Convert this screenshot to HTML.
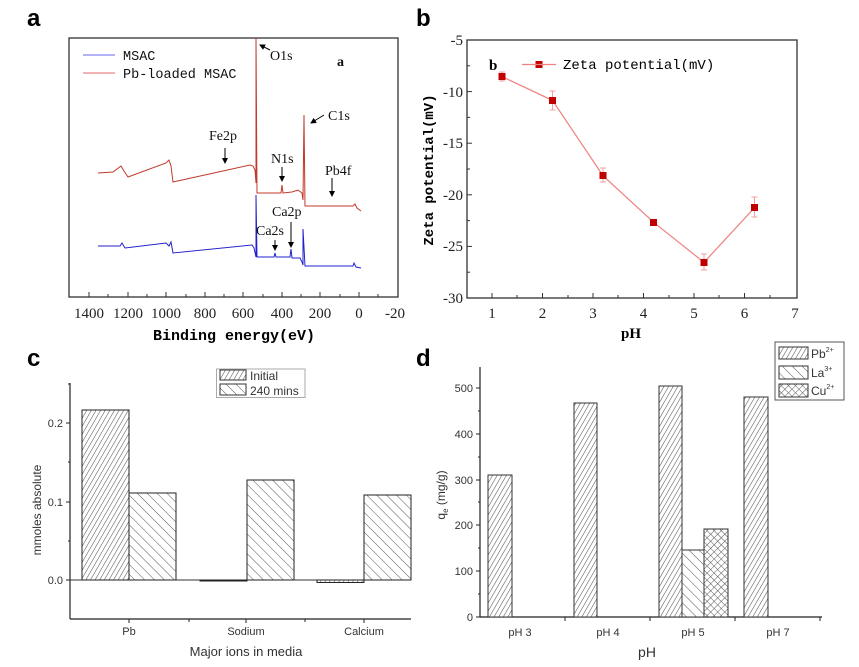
<!DOCTYPE html>
<html><head><meta charset="utf-8"><style>
html,body{margin:0;padding:0;background:#fff;}
svg{display:block;}
.m{font-family:"Liberation Mono",monospace;}
.s{font-family:"Liberation Serif",serif;}
.a{font-family:"Liberation Sans",sans-serif;}
</style></head><body>
<svg width="859" height="667" viewBox="0 0 859 667" xmlns="http://www.w3.org/2000/svg">
<defs>
<pattern id="pf" width="4" height="4" patternUnits="userSpaceOnUse" patternTransform="rotate(30)">
<rect width="4" height="4" fill="#fff"/><line x1="0" y1="0" x2="0" y2="4" stroke="#555" stroke-width="1.1"/></pattern>
<pattern id="pb" width="7" height="7" patternUnits="userSpaceOnUse" patternTransform="rotate(-45)">
<rect width="7" height="7" fill="#fff"/><line x1="0" y1="0" x2="0" y2="7" stroke="#444" stroke-width="0.9"/></pattern>
<pattern id="px" width="5" height="5" patternUnits="userSpaceOnUse" patternTransform="rotate(45)">
<rect width="5" height="5" fill="#fff"/><line x1="0" y1="0" x2="0" y2="5" stroke="#444" stroke-width="0.9"/><line x1="0" y1="0" x2="5" y2="0" stroke="#444" stroke-width="0.9"/></pattern>
<marker id="ar" markerWidth="6" markerHeight="6" refX="5" refY="3" orient="auto"><path d="M0,0 L6,3 L0,6z" fill="#000"/></marker>
</defs>

<!-- Panel labels -->
<g class="a" font-weight="bold" font-size="24">
<text x="27" y="26">a</text><text x="416" y="26">b</text>
<text x="27" y="366">c</text><text x="416" y="366">d</text>
</g>

<!-- Panel a -->
<rect x="69" y="38" width="329" height="259" fill="none" stroke="#333" stroke-width="1.3"/>
<g stroke="#333" stroke-width="1">
<line x1="89" y1="297" x2="89" y2="292"/><line x1="108" y1="297" x2="108" y2="294"/><line x1="128" y1="297" x2="128" y2="292"/><line x1="147" y1="297" x2="147" y2="294"/><line x1="166" y1="297" x2="166" y2="292"/><line x1="186" y1="297" x2="186" y2="294"/><line x1="205" y1="297" x2="205" y2="292"/><line x1="224" y1="297" x2="224" y2="294"/><line x1="243" y1="297" x2="243" y2="292"/><line x1="263" y1="297" x2="263" y2="294"/><line x1="282" y1="297" x2="282" y2="292"/><line x1="301" y1="297" x2="301" y2="294"/><line x1="320" y1="297" x2="320" y2="292"/><line x1="340" y1="297" x2="340" y2="294"/><line x1="359" y1="297" x2="359" y2="292"/><line x1="378" y1="297" x2="378" y2="294"/>
</g>
<g class="s" font-size="15" text-anchor="middle" fill="#222">
<text x="89" y="318">1400</text><text x="128" y="318">1200</text><text x="166" y="318">1000</text><text x="205" y="318">800</text><text x="243" y="318">600</text><text x="282" y="318">400</text><text x="320" y="318">200</text><text x="359" y="318">0</text><text x="395" y="318">-20</text>
</g>
<text x="234" y="340" class="m" font-size="15" font-weight="bold" text-anchor="middle">Binding energy(eV)</text>
<polyline fill="none" stroke="#c0392b" stroke-width="1" points="98,173 113,172 121,166 124,171 128,177 166,163 169,160 171,166 173,182 250,165 253,166 255,170 256,183 256,38 257,193 281,193 282,185 283,193 292,192 298,190 302,193 303,200 304,115 305,206 353,206 355,204 357,208 361,211"/>
<polyline fill="none" stroke="#2222cc" stroke-width="1" points="98,246 120,246 122,243 125,248 166,243 169,246 171,242 173,253 252,245 254,248 256,257 256,195 257,257 274,257 275,253 276,257 290,257 291,249 292,258 300,258 302,262 303,265 303,229 305,266 353,266 354,263 356,267 361,268"/>
<line x1="83" y1="55" x2="115" y2="55" stroke="#6666ee" stroke-width="1"/>
<line x1="83" y1="73" x2="115" y2="73" stroke="#e06666" stroke-width="1"/>
<g class="m" font-size="13.5" fill="#111">
<text x="123" y="60">MSAC</text><text x="123" y="78">Pb-loaded MSAC</text>
</g>
<g class="s" font-size="14" fill="#111">
<text x="270" y="60">O1s</text><text x="328" y="120">C1s</text><text x="209" y="140">Fe2p</text><text x="271" y="163">N1s</text><text x="325" y="175">Pb4f</text><text x="272" y="216">Ca2p</text><text x="256" y="235">Ca2s</text>
<text x="337" y="66" font-weight="bold">a</text>
</g>
<g stroke="#000" stroke-width="1" marker-end="url(#ar)">
<line x1="270" y1="50" x2="260" y2="45"/><line x1="324" y1="115" x2="311" y2="123"/><line x1="225" y1="148" x2="225" y2="163"/><line x1="282" y1="167" x2="282" y2="181"/><line x1="332" y1="178" x2="332" y2="196"/><line x1="291" y1="222" x2="291" y2="247"/><line x1="275" y1="240" x2="275" y2="250"/>
</g>

<!-- Panel b -->
<rect x="467" y="40" width="330" height="258" fill="none" stroke="#333" stroke-width="1.3"/>
<g stroke="#333" stroke-width="1">
<line x1="492" y1="298" x2="492" y2="293"/><line x1="542.5" y1="298" x2="542.5" y2="293"/><line x1="593" y1="298" x2="593" y2="293"/><line x1="643.5" y1="298" x2="643.5" y2="293"/><line x1="694" y1="298" x2="694" y2="293"/><line x1="744.5" y1="298" x2="744.5" y2="293"/>
<line x1="517" y1="298" x2="517" y2="295"/><line x1="568" y1="298" x2="568" y2="295"/><line x1="618" y1="298" x2="618" y2="295"/><line x1="669" y1="298" x2="669" y2="295"/><line x1="719" y1="298" x2="719" y2="295"/><line x1="770" y1="298" x2="770" y2="295"/>
<line x1="467" y1="91.6" x2="472" y2="91.6"/><line x1="467" y1="143.2" x2="472" y2="143.2"/><line x1="467" y1="194.8" x2="472" y2="194.8"/><line x1="467" y1="246.4" x2="472" y2="246.4"/>
<line x1="467" y1="65.8" x2="470" y2="65.8"/><line x1="467" y1="117.4" x2="470" y2="117.4"/><line x1="467" y1="169" x2="470" y2="169"/><line x1="467" y1="220.6" x2="470" y2="220.6"/><line x1="467" y1="272.2" x2="470" y2="272.2"/>
</g>
<g class="s" font-size="15" fill="#222" text-anchor="end">
<text x="463" y="45">-5</text><text x="463" y="97">-10</text><text x="463" y="148">-15</text><text x="463" y="200">-20</text><text x="463" y="251">-25</text><text x="463" y="303">-30</text>
</g>
<g class="s" font-size="15" fill="#222" text-anchor="middle">
<text x="492" y="318">1</text><text x="542.5" y="318">2</text><text x="593" y="318">3</text><text x="643.5" y="318">4</text><text x="694" y="318">5</text><text x="744.5" y="318">6</text><text x="795" y="318">7</text>
</g>
<text x="631" y="338" class="s" font-size="15" font-weight="bold" text-anchor="middle">pH</text>
<text transform="translate(433,170) rotate(-90)" class="m" font-size="14" font-weight="bold" text-anchor="middle">Zeta potential(mV)</text>
<g stroke="#f0a0a0" stroke-width="1">
<line x1="502" y1="72" x2="502" y2="81"/><line x1="499" y1="72" x2="505" y2="72"/><line x1="499" y1="81" x2="505" y2="81"/>
<line x1="552.5" y1="91" x2="552.5" y2="110"/><line x1="549.5" y1="91" x2="555.5" y2="91"/><line x1="549.5" y1="110" x2="555.5" y2="110"/>
<line x1="603" y1="168" x2="603" y2="182"/><line x1="600" y1="168" x2="606" y2="168"/><line x1="600" y1="182" x2="606" y2="182"/>
<line x1="704" y1="254" x2="704" y2="270"/><line x1="701" y1="254" x2="707" y2="254"/><line x1="701" y1="270" x2="707" y2="270"/>
<line x1="754.5" y1="197" x2="754.5" y2="217"/><line x1="751.5" y1="197" x2="757.5" y2="197"/><line x1="751.5" y1="217" x2="757.5" y2="217"/>
</g>
<polyline fill="none" stroke="#f08080" stroke-width="1.2" points="502,76.6 552.5,100.4 603,175.7 653.5,222.2 704,262.4 754.5,207.7"/>
<g fill="#c00000">
<rect x="498.5" y="73" width="7" height="7"/><rect x="549" y="97" width="7" height="7"/><rect x="599.5" y="172" width="7" height="7"/><rect x="650" y="219" width="7" height="7"/><rect x="700.5" y="259" width="7" height="7"/><rect x="751" y="204" width="7" height="7"/>
<rect x="535.5" y="61" width="7" height="7"/>
</g>
<line x1="522" y1="64.5" x2="556" y2="64.5" stroke="#f08080" stroke-width="1.2"/>
<text x="489" y="70" class="s" font-size="15" font-weight="bold">b</text>
<text x="563" y="69" class="m" font-size="14">Zeta potential(mV)</text>

<!-- Panel c -->
<g stroke="#222" stroke-width="1.2" fill="none">
<line x1="70" y1="383" x2="70" y2="619"/><line x1="70" y1="619" x2="411" y2="619"/>
</g>
<g stroke="#222" stroke-width="1">
<line x1="66" y1="423" x2="70" y2="423"/><line x1="66" y1="502" x2="70" y2="502"/><line x1="66" y1="580" x2="70" y2="580"/>
<line x1="68" y1="462" x2="70" y2="462"/><line x1="68" y1="541" x2="70" y2="541"/><line x1="68" y1="384" x2="70" y2="384"/>
<line x1="129" y1="619" x2="129" y2="623"/><line x1="246" y1="619" x2="246" y2="623"/><line x1="364" y1="619" x2="364" y2="623"/><line x1="189" y1="619" x2="189" y2="622"/><line x1="305" y1="619" x2="305" y2="622"/>
</g>
<line x1="70" y1="580" x2="411" y2="580" stroke="#333" stroke-width="1"/>
<g stroke="#222" stroke-width="1">
<rect x="82" y="410" width="47" height="170" fill="url(#pf)"/>
<rect x="129" y="493" width="47" height="87" fill="url(#pb)"/>
<rect x="200" y="580" width="47" height="1" fill="url(#pf)"/>
<rect x="247" y="480" width="47" height="100" fill="url(#pb)"/>
<rect x="317" y="580" width="47" height="2.5" fill="url(#pf)"/>
<rect x="364" y="495" width="47" height="85" fill="url(#pb)"/>
</g>
<g class="a" font-size="11" fill="#333">
<text x="63" y="427" text-anchor="end">0.2</text><text x="63" y="506" text-anchor="end">0.1</text><text x="63" y="584" text-anchor="end">0.0</text>
<text x="129" y="635" text-anchor="middle">Pb</text><text x="246" y="635" text-anchor="middle">Sodium</text><text x="364" y="635" text-anchor="middle">Calcium</text>
</g>
<text x="246" y="656" class="a" font-size="13" fill="#333" text-anchor="middle">Major ions in media</text>
<text transform="translate(41,510) rotate(-90)" class="a" font-size="12" fill="#333" text-anchor="middle">mmoles absolute</text>
<rect x="216.5" y="369" width="88.5" height="28.5" fill="#fff" stroke="#aaa" stroke-width="1"/>
<rect x="220" y="370" width="26" height="10" fill="url(#pf)" stroke="#333" stroke-width="1"/>
<rect x="220" y="384" width="26" height="11" fill="url(#pb)" stroke="#333" stroke-width="1"/>
<g class="a" font-size="12" fill="#333"><text x="250" y="380">Initial</text><text x="250" y="395">240 mins</text></g>

<!-- Panel d -->
<g stroke="#222" stroke-width="1.2">
<line x1="480" y1="367" x2="480" y2="617"/><line x1="480" y1="617" x2="822" y2="617"/>
</g>
<g stroke="#222" stroke-width="1">
<line x1="476" y1="388" x2="480" y2="388"/><line x1="476" y1="434" x2="480" y2="434"/><line x1="476" y1="480" x2="480" y2="480"/><line x1="476" y1="525" x2="480" y2="525"/><line x1="476" y1="571" x2="480" y2="571"/><line x1="476" y1="617" x2="480" y2="617"/>
<line x1="478" y1="411" x2="480" y2="411"/><line x1="478" y1="457" x2="480" y2="457"/><line x1="478" y1="502" x2="480" y2="502"/><line x1="478" y1="548" x2="480" y2="548"/><line x1="478" y1="594" x2="480" y2="594"/>
<line x1="565" y1="617" x2="565" y2="621"/><line x1="650" y1="617" x2="650" y2="621"/><line x1="735" y1="617" x2="735" y2="621"/><line x1="820" y1="617" x2="820" y2="621"/>
</g>
<g stroke="#333" stroke-width="1">
<rect x="488" y="475" width="24" height="142" fill="url(#pf)"/>
<rect x="574" y="403" width="23" height="214" fill="url(#pf)"/>
<rect x="659" y="386" width="23" height="231" fill="url(#pf)"/>
<rect x="682" y="550" width="22" height="67" fill="url(#pb)"/>
<rect x="704" y="529" width="24" height="88" fill="url(#px)"/>
<rect x="744" y="397" width="24" height="220" fill="url(#pf)"/>
</g>
<g class="a" font-size="11" fill="#333">
<text x="473" y="392" text-anchor="end">500</text><text x="473" y="438" text-anchor="end">400</text><text x="473" y="484" text-anchor="end">300</text><text x="473" y="529" text-anchor="end">200</text><text x="473" y="575" text-anchor="end">100</text><text x="473" y="621" text-anchor="end">0</text>
<text x="520" y="636" text-anchor="middle">pH 3</text><text x="608" y="636" text-anchor="middle">pH 4</text><text x="693" y="636" text-anchor="middle">pH 5</text><text x="778" y="636" text-anchor="middle">pH 7</text>
</g>
<text x="647" y="657" class="a" font-size="14" fill="#333" text-anchor="middle">pH</text>
<text transform="translate(445,495) rotate(-90)" class="a" font-size="12" fill="#333" text-anchor="middle">q<tspan font-size="8" dy="3">e</tspan><tspan dy="-3"> (mg/g)</tspan></text>
<rect x="775" y="342" width="69" height="58" fill="#fff" stroke="#555" stroke-width="1"/>
<rect x="779" y="347" width="29" height="12" fill="url(#pf)" stroke="#333"/>
<rect x="779" y="366" width="29" height="13" fill="url(#pb)" stroke="#333"/>
<rect x="779" y="384" width="29" height="13" fill="url(#px)" stroke="#333"/>
<g class="a" font-size="12" fill="#333">
<text x="811" y="358">Pb<tspan font-size="7" dy="-6">2+</tspan></text>
<text x="811" y="377">La<tspan font-size="7" dy="-6">3+</tspan></text>
<text x="811" y="395">Cu<tspan font-size="7" dy="-6">2+</tspan></text>
</g>
</svg>
</body></html>
